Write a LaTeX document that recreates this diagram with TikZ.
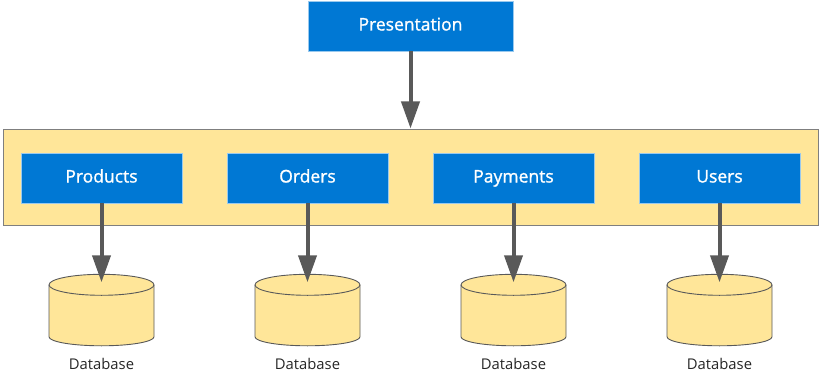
\documentclass[tikz,border=0pt]{standalone}
\usepackage{fontspec}
\setmainfont{Open Sans}
\newfontfamily\svcfont{Open Sans}[FakeBold=1.2]
\usetikzlibrary{arrows.meta}
\definecolor{msblue}{HTML}{0078D4}
\definecolor{paleyel}{HTML}{FFE699}
\definecolor{arrgray}{HTML}{595959}
\definecolor{boxedge}{HTML}{7F7F7F}
\tikzset{
  svc/.style={rectangle, fill=msblue, draw=msblue!40, line width=0.8pt, minimum width=161pt, minimum height=50pt, inner sep=0pt, text=white, text height=12.5pt, text depth=3.5pt, font=\svcfont\fontsize{17.5}{20}\selectfont},
  flow/.style={draw=arrgray, line width=4pt, -{Triangle[width=18pt,length=27pt]}},
  dbspace/.style={rectangle, draw=none, minimum width=105pt, minimum height=72pt, inner sep=0pt},
  dblabel/.style={font=\fontsize{14.8}{17}\selectfont, text=black!85},
  cyl/.style={fill=paleyel, draw=arrgray, line width=0.9pt}
}
\newcommand{\dbcyl}[1]{%
  \path[cyl] ([xshift=-52.5pt]#1.north) ++(0,-10.5pt) -- ++(0,-52pt)
     arc[start angle=180, end angle=360, x radius=52.5pt, y radius=9pt]
     -- ++(0,52pt) arc[start angle=0, end angle=180, x radius=52.5pt, y radius=10.5pt] -- cycle;
  \draw[cyl, fill=none] ([xshift=-52.5pt]#1.north) ++(0,-10.5pt)
     arc[start angle=180, end angle=360, x radius=52.5pt, y radius=10.5pt];
}
\begin{document}
\begin{tikzpicture}[x=1pt,y=-1pt]
\useasboundingbox (0,0) rectangle (821,385);
\node[svc, minimum width=205pt] (pres) at (410.5,26) {Presentation};
\node[rectangle, fill=paleyel, draw=boxedge, line width=1pt, minimum width=815pt, minimum height=96pt, inner sep=0pt] (cont) at (410.5,177) {};
\node[svc] (products) at (101.5,178) {Products};
\node[svc] (orders) at (307.5,178) {Orders};
\node[svc] (payments) at (513.5,178) {Payments};
\node[svc] (users) at (719.5,178) {Users};
\foreach \n/\x in {db1/101.5, db2/307.5, db3/513.5, db4/719.5}{
  \node[dbspace] (\n) at (\x,310.5) {};
  \dbcyl{\n}
}
\node[dblabel] (l1) at (101.5,364) {Database};
\node[dblabel] (l2) at (307.5,364) {Database};
\node[dblabel] (l3) at (513.5,364) {Database};
\node[dblabel] (l4) at (719.5,364) {Database};
\draw[flow] (pres.south) -- (cont.north -| pres.south);
\foreach \s/\d in {products/db1, orders/db2, payments/db3, users/db4}{
  \draw[flow] (\s.south) -- ([yshift=-8pt]\d.north);
}
\end{tikzpicture}
\end{document}
